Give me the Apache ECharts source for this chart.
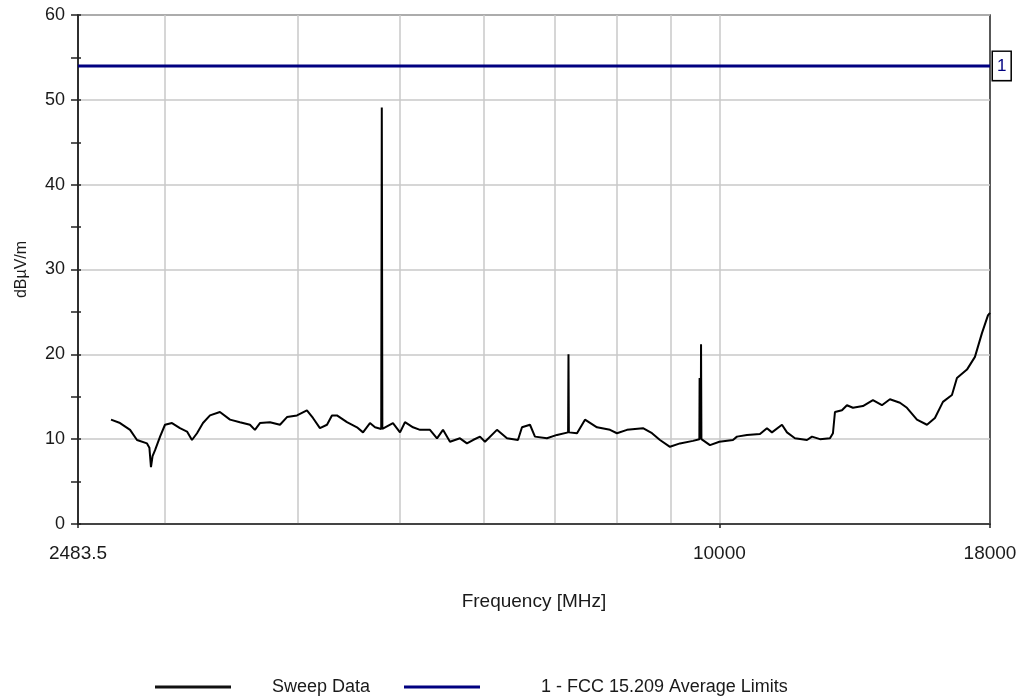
<!DOCTYPE html>
<html>
<head>
<meta charset="utf-8">
<script src="https://cdn.jsdelivr.net/npm/echarts@6/dist/echarts.min.js"></script>
<style>
html,body{margin:0;padding:0;background:#fff;}
#chart{width:1022px;height:696px;}
</style>
</head>
<body>
<div id="chart"></div>
<script>
// Frequencies (MHz) of the sweep trace
var sweepFreq = [2668,2721,2781,2823,2885,2900,2910,2920,2936,2968,3000,3046,3099,3147,3181,3216,3258,3308,3380,3455,3530,3608,3647,3687,3768,3851,3910,3996,4083,4137,4200,4265,4311,4358,4454,4552,4612,4682,4734,4798,4804,4810,4817,4922,4998,5052,5141,5220,5334,5416,5487,5571,5693,5780,5856,5946,6011,6169,6305,6457,6514,6628,6700,6877,7028,7200,7206,7212,7341,7469,7666,7886,8006,8182,8471,8639,8790,8983,9180,9443,9575,9580,9590,9604,9610,9618,9798,10000,10300,10390,10618,10922,11089,11210,11457,11582,11784,12096,12228,12442,12715,12798,12854,13051,13193,13366,13659,13959,14234,14484,14802,15029,15359,15697,15971,16251,16572,16753,17121,17421,17688,17920,18000];
// Levels (dBµV/m) of the sweep trace
var sweepLevel = [12.3,11.9,11.1,9.9,9.5,9.0,6.7,8.0,8.7,10.3,11.7,11.9,11.3,10.9,9.9,10.7,11.9,12.8,13.2,12.3,12.0,11.7,11.1,11.9,12.0,11.7,12.6,12.8,13.4,12.5,11.3,11.7,12.8,12.8,12.0,11.4,10.8,11.9,11.4,11.2,49.1,11.2,11.1,11.9,10.8,12.0,11.4,11.1,11.1,10.1,11.1,9.7,10.1,9.5,9.9,10.3,9.7,11.1,10.1,9.9,11.4,11.7,10.3,10.1,10.5,10.8,20.0,10.8,10.7,12.3,11.4,11.1,10.7,11.1,11.3,10.7,9.9,9.1,9.5,9.8,10.0,17.2,17.2,10.0,21.2,10.0,9.3,9.7,9.9,10.3,10.5,10.6,11.3,10.8,11.7,10.8,10.1,9.9,10.3,10.0,10.1,10.7,13.2,13.4,14.0,13.7,13.9,14.6,14.0,14.7,14.3,13.7,12.3,11.7,12.5,14.4,15.2,17.2,18.2,19.7,22.5,24.6,24.9];
// FCC 15.209 average limit
var limitFreq = [2483.5, 18000];
var limitLevel = [54, 54];
// Axis ticks
var xLabelValues = [2483.5, 10000, 18000];
var xGridValues = [3000, 4000, 5000, 6000, 7000, 8000, 9000, 10000];
var yTicks = {min: 0, max: 60, interval: 10};
var seriesNames = ['Sweep Data', '1 - FCC 15.209 Average Limits'];

var sweepData = sweepFreq.map(function (f, i) { return [f, sweepLevel[i]]; });
var limitData = limitFreq.map(function (f, i) { return [f, limitLevel[i]]; });

var FONT = 'Liberation Sans, Arial, sans-serif';
var TXT = '#1a1a1a';
function legendAt(left, name, pad) {
  return {
    top: 673, left: left, itemWidth: 76, itemHeight: 3, icon: 'rect',
    textStyle: {fontFamily: FONT, fontSize: 18, color: TXT, padding: [0, 0, 0, pad]},
    data: [name]
  };
}
var chart = echarts.init(document.getElementById('chart'), null, {renderer: 'canvas'});
chart.setOption({
  animation: false,
  backgroundColor: '#fff',
  grid: {left: 78, right: 32, top: 15, bottom: 172, show: true, borderColor: '#222', borderWidth: 1.5, containLabel: false},
  xAxis: [{
    type: 'log', logBase: 10, min: 2483.5, max: 18000,
    name: 'Frequency [MHz]', nameLocation: 'middle', nameGap: 68,
    nameTextStyle: {fontFamily: FONT, fontSize: 19, color: TXT},
    axisLine: {show: true, lineStyle: {color: '#222', width: 1.5}},
    axisTick: {show: true, length: 4, customValues: xLabelValues, lineStyle: {color: '#222', width: 1.5}},
    axisLabel: {show: true, customValues: xLabelValues, margin: 20, fontFamily: FONT, fontSize: 19, color: TXT,
      formatter: function (v) { return String(v); }},
    splitLine: {show: false}, minorTick: {show: false}, minorSplitLine: {show: false}
  }, {
    type: 'log', logBase: 10, min: 2483.5, max: 18000, position: 'bottom',
    axisLine: {show: false},
    axisTick: {show: false, customValues: xGridValues},
    axisLabel: {show: false, customValues: xGridValues},
    splitLine: {show: true, lineStyle: {color: '#c8c8c8', width: 1.5}}
  }],
  yAxis: [{
    type: 'value', min: yTicks.min, max: yTicks.max, interval: yTicks.interval,
    name: 'dBµV/m', nameLocation: 'middle', nameGap: 48, nameRotate: 90,
    nameTextStyle: {fontFamily: FONT, fontSize: 16, color: TXT},
    axisLine: {show: true, lineStyle: {color: '#222', width: 1.5}},
    axisTick: {show: true, length: 7, lineStyle: {color: '#222', width: 1.5}},
    minorTick: {show: true, splitNumber: 2, length: 7, lineStyle: {color: '#222', width: 1.5}},
    axisLabel: {margin: 13, fontFamily: FONT, fontSize: 18, color: TXT},
    splitLine: {show: true, lineStyle: {color: '#c8c8c8', width: 1.5}}
  }, {
    type: 'value', min: yTicks.min, max: yTicks.max, interval: yTicks.interval, position: 'left',
    axisLine: {show: false},
    axisTick: {show: true, inside: true, length: 3, lineStyle: {color: '#222', width: 1.5}},
    minorTick: {show: true, splitNumber: 2, length: 3, lineStyle: {color: '#222', width: 1.5}},
    axisLabel: {show: false}, splitLine: {show: false}
  }],
  legend: [legendAt(150, seriesNames[0], 36), legendAt(399, seriesNames[1], 56)],
  series: [{
    name: seriesNames[0], type: 'line', xAxisIndex: 0, yAxisIndex: 0,
    data: sweepData, symbol: 'none', showSymbol: false,
    lineStyle: {color: '#000', width: 2}, itemStyle: {color: '#111'}, z: 3
  }, {
    name: seriesNames[1], type: 'line', xAxisIndex: 0, yAxisIndex: 0,
    data: limitData, symbol: 'none', showSymbol: false,
    lineStyle: {color: '#000080', width: 3}, itemStyle: {color: '#000080'}, z: 4,
    endLabel: {show: true, formatter: '1', distance: 3, fontFamily: FONT, fontSize: 17, color: '#000080',
      borderColor: '#000', borderWidth: 1.5, padding: [6, 4, 5, 4], backgroundColor: '#fff'}
  }]
});
</script>
</body>
</html>
